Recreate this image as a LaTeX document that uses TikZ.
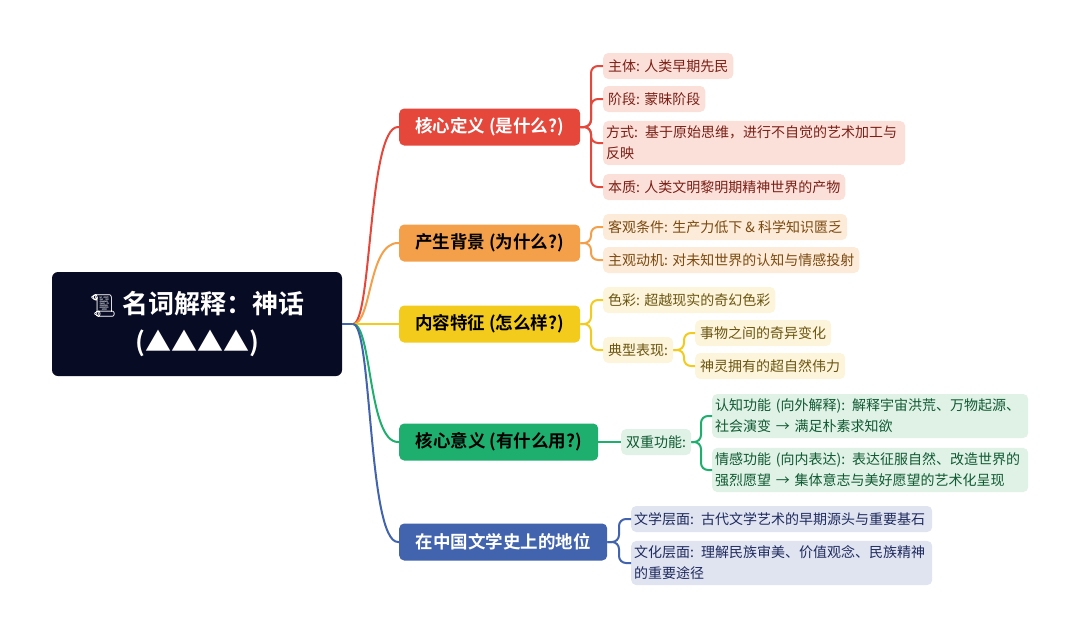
\documentclass[tikz,border=0pt]{standalone}
\usepackage{fontspec}
\newfontfamily\cjk{Noto Sans CJK SC}[BoldFont={Noto Sans CJK SC Bold}]
\newfontfamily\emoji{Noto Emoji}
\usetikzlibrary{positioning}
\definecolor{rootbg}{HTML}{070B24}
\definecolor{cred}{HTML}{E5473B}
\definecolor{cora}{HTML}{F4A04A}
\definecolor{cyel}{HTML}{F2CB1D}
\definecolor{cgrn}{HTML}{1EAF6E}
\definecolor{cblu}{HTML}{4263AE}
\definecolor{lred}{HTML}{FBE0DA}
\definecolor{lora}{HTML}{FDEBD9}
\definecolor{lyel}{HTML}{FCF5DC}
\definecolor{lgrn}{HTML}{E0F1E6}
\definecolor{lblu}{HTML}{E0E3F0}
\definecolor{tred}{HTML}{7A1F15}
\definecolor{tora}{HTML}{7A4A10}
\definecolor{tyel}{HTML}{6B5510}
\definecolor{tgrn}{HTML}{0F5A32}
\definecolor{tblu}{HTML}{1E2B5E}
\tikzset{
  topic/.style={rounded corners=5pt, anchor=west, inner xsep=11pt, minimum height=37pt,
    font=\cjk\fontsize{17.5}{20}\selectfont\bfseries},
  leaf/.style={rounded corners=5pt, anchor=west, inner xsep=5pt, inner ysep=5pt, minimum height=26pt,
    align=left, font=\cjk\fontsize{14}{21}\selectfont},
  wide/.style={inner xsep=3pt, text width=#1},
  link/.style={line width=2pt, rounded corners=7pt},
}
\begin{document}
\begin{tikzpicture}[x=1pt, y=-1pt]
\useasboundingbox (0,0) rectangle (1080,640);
% root
\node (root) [fill=rootbg, rounded corners=6pt, minimum width=290pt, minimum height=104pt, align=center,
  text=white, font=\cjk\fontsize{26}{38}\selectfont\bfseries] at (197,324)
  {{\emoji\fontsize{22}{26}\selectfont 📜} 名词解释：神话\\(▲▲▲▲)};
\coordinate (hub) at (353,324);
% topics
\node (def) [topic, fill=cred, text=white, minimum width=181pt] at (399,127) {核心定义 (是什么?)};
\node (bg) [topic, fill=cora, text=black, minimum width=181pt] at (399,243) {产生背景 (为什么?)};
\node (feat) [topic, fill=cyel, text=black, minimum width=181pt] at (399,324) {内容特征 (怎么样?)};
\node (mean) [topic, fill=cgrn, text=black, minimum width=199pt] at (399,442) {核心意义 (有什么用?)};
\node (pos) [topic, fill=cblu, text=white, minimum width=208pt] at (399,542) {在中国文学史上的地位};
\draw [link, cblu] (root.east |- hub) -- (hub);
\foreach \t/\c in {def/cred, bg/cora, feat/cyel, mean/cgrn, pos/cblu}
  \draw [line width=2pt, \c] (hub) .. controls (372,324) and (368,0 |- \t.west) .. ([xshift=-1pt]\t.west)
    -- (\t.west);
% definition
\node (d1) [leaf, fill=lred, text=tred] at (603,66) {主体: 人类早期先民};
\node (d2) [leaf, fill=lred, text=tred] at (603,99) {阶段: 蒙昧阶段};
\node (d3) [leaf, wide=296pt, fill=lred, text=tred] at (603,143) {方式: 基于原始思维，进行不自觉的艺术加工与\\反映};
\node (d4) [leaf, fill=lred, text=tred] at (603,187) {本质: 人类文明黎明期精神世界的产物};
\foreach \n in {d1,d2,d3,d4}
  \draw [link, cred] (def.east) -- (591,127) |- (\n.west);
% background
\node (b1) [leaf, fill=lora, text=tora] at (603,227) {客观条件: 生产力低下 \& 科学知识匮乏};
\node (b2) [leaf, fill=lora, text=tora] at (603,260) {主观动机: 对未知世界的认知与情感投射};
\foreach \n in {b1,b2}
  \draw [link, cora] (bg.east) -- (591,243) |- (\n.west);
% features
\node (f1) [leaf, fill=lyel, text=tyel] at (603,300) {色彩: 超越现实的奇幻色彩};
\node (f2) [leaf, fill=lyel, text=tyel] at (603,350) {典型表现:};
\node (f3) [leaf, fill=lyel, text=tyel] at (695,333) {事物之间的奇异变化};
\node (f4) [leaf, fill=lyel, text=tyel] at (695,366) {神灵拥有的超自然伟力};
\foreach \n in {f1,f2}
  \draw [link, cyel] (feat.east) -- (591,324) |- (\n.west);
\foreach \n in {f3,f4}
  \draw [link, cyel] (f2.east) -- (684,350) |- (\n.west);
% meaning
\node (m1) [leaf, fill=lgrn, text=tgrn] at (621,442) {双重功能:};
\node (m2) [leaf, wide=310pt, fill=lgrn, text=tgrn] at (712,416) {认知功能 (向外解释): 解释宇宙洪荒、万物起源、\\社会演变 → 满足朴素求知欲};
\node (m3) [leaf, wide=310pt, fill=lgrn, text=tgrn] at (712,470) {情感功能 (向内表达): 表达征服自然、改造世界的\\强烈愿望 → 集体意志与美好愿望的艺术化呈现};
\draw [link, cgrn] (mean.east) -- (m1.west);
\foreach \n in {m2,m3}
  \draw [link, cgrn] (m1.east) -- (701,442) |- (\n.west);
% position
\node (p1) [leaf, wide=295pt, fill=lblu, text=tblu] at (631,519) {文学层面: 古代文学艺术的早期源头与重要基石};
\node (p2) [leaf, wide=295pt, fill=lblu, text=tblu] at (631,563) {文化层面: 理解民族审美、价值观念、民族精神\\的重要途径};
\foreach \n in {p1,p2}
  \draw [link, cblu] (pos.east) -- (619,542) |- (\n.west);
\end{tikzpicture}
\end{document}
